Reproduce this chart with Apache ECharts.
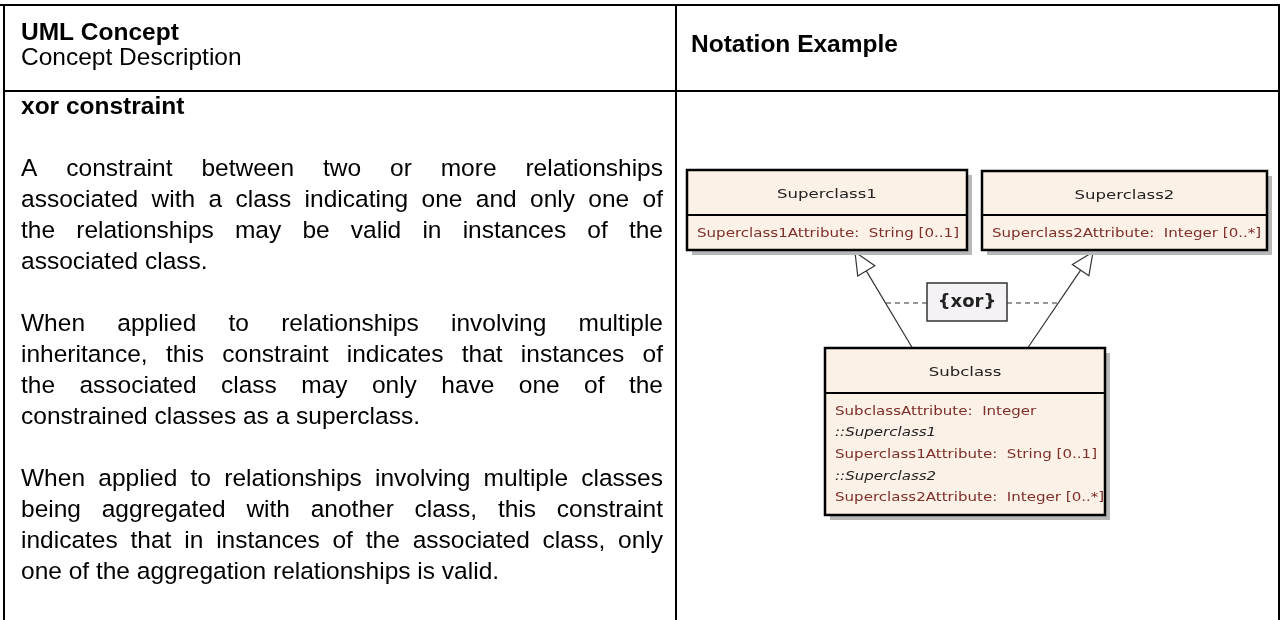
<!DOCTYPE html>
<html><head><meta charset="utf-8">
<script src="https://cdn.jsdelivr.net/npm/echarts@6/dist/echarts.min.js"></script>
<style>html,body{margin:0;padding:0;background:#fff}#c{width:1284px;height:620px}</style>
</head><body><div id="c"></div>
<script>
// ---------- content (text data) ----------
const headerLeftTitle = 'UML Concept';
const headerLeftSub = 'Concept Description';
const headerRight = 'Notation Example';
const conceptName = 'xor constraint';
const paragraph1 = [
  'A constraint between two or more relationships',
  'associated with a class indicating one and only one of',
  'the relationships may be valid in instances of the',
  'associated class.'
];
const paragraph2 = [
  'When applied to relationships involving multiple',
  'inheritance, this constraint indicates that instances of',
  'the associated class may only have one of the',
  'constrained classes as a superclass.'
];
const paragraph3 = [
  'When applied to relationships involving multiple classes',
  'being aggregated with another class, this constraint',
  'indicates that in instances of the associated class, only',
  'one of the aggregation relationships is valid.'
];
const classNames = ['Superclass1', 'Superclass2', 'Subclass'];
const superclass1Attrs = ['Superclass1Attribute:  String [0..1]'];
const superclass2Attrs = ['Superclass2Attribute:  Integer [0..*]'];
const subclassAttrs = [
  'SubclassAttribute:  Integer',
  '::Superclass1',
  'Superclass1Attribute:  String [0..1]',
  '::Superclass2',
  'Superclass2Attribute:  Integer [0..*]'
];
const constraintLabel = '{xor}';

// ---------- layout ----------
const BODY_FS = 24.5;
const BODY_FONT = BODY_FS + 'px "Liberation Sans", Arial, sans-serif';
const BOLD_FONT = 'bold ' + BODY_FS + 'px "Liberation Sans", Arial, sans-serif';
const TEXT_X0 = 21, TEXT_X1 = 663;
const LINE_H = 31;
const UML_FS = 13;
const UML_FONT = UML_FS + 'px "DejaVu Sans", sans-serif';
const UML_IFONT = 'italic ' + UML_FS + 'px "DejaVu Sans", sans-serif';

const ctx = document.createElement('canvas').getContext('2d');
function tw(text, font) { ctx.font = font; return ctx.measureText(text).width; }
const UML_SCALE = 262 / tw(superclass1Attrs[0], UML_FONT);

const els = [];
function txt(text, x, baseline, font, fs, fill, align, sx) {
  els.push({
    type: 'text', silent: true, x: x, y: baseline - 0.35 * fs,
    scaleX: sx || 1,
    style: { text: text, x: 0, y: 0, font: font, fill: fill || '#000',
      textAlign: align || 'left', textVerticalAlign: 'middle' }
  });
}
function line(x1, y1, x2, y2, w, color, dash) {
  els.push({ type: 'line', silent: true,
    shape: { x1: x1, y1: y1, x2: x2, y2: y2 },
    style: { stroke: color || '#000', lineWidth: w || 1, lineDash: dash || null } });
}
function rect(x, y, w, h, fill, stroke, lw) {
  els.push({ type: 'rect', silent: true, shape: { x: x, y: y, width: w, height: h },
    style: { fill: fill || 'none', stroke: stroke || null, lineWidth: lw || 0 } });
}
function paragraph(lines, firstBaseline) {
  lines.forEach(function (ln, i) {
    const b = firstBaseline + i * LINE_H;
    const last = i === lines.length - 1;
    if (last) { txt(ln, TEXT_X0, b, BODY_FONT, BODY_FS); return; }
    const words = ln.split(' ');
    const ws = words.map(function (w) { return tw(w, BODY_FONT); });
    const total = ws.reduce(function (a, c) { return a + c; }, 0);
    const gap = (TEXT_X1 - TEXT_X0 - total) / (words.length - 1);
    let x = TEXT_X0;
    words.forEach(function (w, k) { txt(w, x, b, BODY_FONT, BODY_FS); x += ws[k] + gap; });
  });
}

// table frame
line(0, 5, 1280, 5, 2);
line(4, 4, 4, 620, 2);
line(676, 4, 676, 620, 2);
line(1279, 4, 1279, 620, 2);
line(4, 91, 1280, 91, 2);

// header
txt(headerLeftTitle, TEXT_X0, 42, BOLD_FONT, BODY_FS);
txt(headerLeftSub, TEXT_X0, 67, BODY_FONT, BODY_FS);
txt(headerRight, 691, 54, BOLD_FONT, BODY_FS);

// concept
const XOR_BASE = 116;
txt(conceptName, TEXT_X0, XOR_BASE, BOLD_FONT, BODY_FS);
paragraph(paragraph1, XOR_BASE + 2 * LINE_H);
paragraph(paragraph2, XOR_BASE + 7 * LINE_H);
paragraph(paragraph3, XOR_BASE + 12 * LINE_H);

// UML diagram
const BOX_FILL = '#fcf1e6', SHADOW = '#b8b8b8', ATTR = '#7d2f2a', TITLE = '#222';
function umlClass(name, attrs, x, y, w, titleH, attrH, attrStep) {
  const h = titleH + attrH;
  rect(x + 5, y + 5, w, h, SHADOW);
  rect(x, y, w, h, BOX_FILL, '#000', 2.5);
  line(x, y + titleH, x + w, y + titleH, 2);
  txt(name, x + w / 2, y + titleH / 2 + 7, UML_FONT, UML_FS, TITLE, 'center', UML_SCALE * 1.1);
  attrs.forEach(function (a, i) {
    const italic = a.indexOf('::') === 0;
    txt(a, x + 10, y + titleH + 23 + i * attrStep, italic ? UML_IFONT : UML_FONT, UML_FS,
      italic ? TITLE : ATTR, 'left', UML_SCALE);
  });
}
function arrowHead(tx, ty, fx, fy) {
  const dx = fx - tx, dy = fy - ty, len = Math.sqrt(dx * dx + dy * dy);
  const ux = dx / len, uy = dy / len, L = 22, H = 10;
  const bx = tx + ux * L, by = ty + uy * L;
  els.push({ type: 'polygon', silent: true,
    shape: { points: [[tx, ty], [bx - uy * H, by + ux * H], [bx + uy * H, by - ux * H]] },
    style: { fill: '#fff', stroke: '#333', lineWidth: 1.2 } });
  line(bx, by, fx, fy, 1.2, '#333');
}

// generalization lines + xor
arrowHead(855, 252, 913, 349);
arrowHead(1093, 252, 1027, 349);
line(886, 303, 927, 303, 1.2, '#333', [5, 4]);
line(1007, 303, 1058, 303, 1.2, '#333', [5, 4]);
rect(927, 283, 80, 38, '#f4f2f4', '#333', 1.5);
txt(constraintLabel, 967, 309, 'bold 18px "DejaVu Sans", sans-serif', 18, '#222', 'center');

umlClass(classNames[0], superclass1Attrs, 687, 170, 280, 45, 35, 21.5);
umlClass(classNames[1], superclass2Attrs, 982, 171, 285, 44, 35, 21.5);
umlClass(classNames[2], subclassAttrs, 825, 348, 280, 45, 122, 21.6);

const chart = echarts.init(document.getElementById('c'), null, { renderer: 'canvas' });
chart.setOption({ animation: false, backgroundColor: '#fff', graphic: { elements: els } });
</script>
</body></html>
